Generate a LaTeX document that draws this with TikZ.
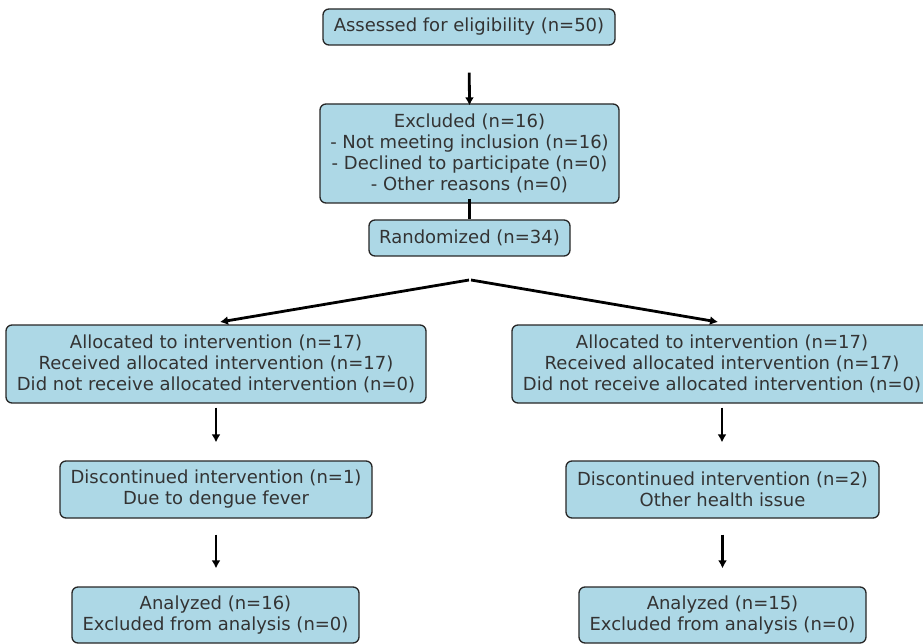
\documentclass[tikz,border=0pt]{standalone}
\usepackage{fontspec}
\setmainfont{DejaVu Sans}
\usetikzlibrary{arrows.meta}
\definecolor{boxfill}{HTML}{ADD8E6}
\definecolor{boxedge}{HTML}{262626}
\definecolor{txt}{HTML}{333333}
\tikzset{
  box/.style={draw=boxedge, fill=boxfill, line width=1.3pt, rounded corners=6pt,
    align=center, text=txt, inner sep=0pt, font={\fontsize{18}{21}\selectfont}},
  arr/.style={draw=black, line width=2.8pt, -{Latex[length=8pt,width=9pt]}},
  plainline/.style={draw=black, line width=2.8pt}
}
\begin{document}
\begin{tikzpicture}[x=1pt,y=-1pt]
\useasboundingbox (0,0) rectangle (923,644);
\clip (0,0) rectangle (923,644);
\node[box, minimum width=292pt, minimum height=36pt] (assess) at (469,27) {Assessed for eligibility (n=50)};
\node[box, minimum width=299pt, minimum height=99pt] (excl) at (469.5,153.5) {Excluded (n=16)\\- Not meeting inclusion (n=16)\\- Declined to participate (n=0)\\- Other reasons (n=0)};
\node[box, minimum width=201pt, minimum height=36pt] (rand) at (469.5,238) {Randomized (n=34)};
\node[box, minimum width=420pt, minimum height=78pt] (allocL) at (216,364) {Allocated to intervention (n=17)\\Received allocated intervention (n=17)\\Did not receive allocated intervention (n=0)};
\node[box, minimum width=420pt, minimum height=78pt] (allocR) at (722,364) {Allocated to intervention (n=17)\\Received allocated intervention (n=17)\\Did not receive allocated intervention (n=0)};
\node[box, minimum width=312pt, minimum height=57pt] (discL) at (216,489.5) {Discontinued intervention (n=1)\\Due to dengue fever};
\node[box, minimum width=313pt, minimum height=57pt] (discR) at (722.5,489.5) {Discontinued intervention (n=2)\\Other health issue};
\node[box, minimum width=287pt, minimum height=56pt] (anaL) at (215.5,615) {Analyzed (n=16)\\Excluded from analysis (n=0)};
\node[box, minimum width=287pt, minimum height=56pt] (anaR) at (722.5,615) {Analyzed (n=15)\\Excluded from analysis (n=0)};
\coordinate (splitL) at (469,280);
\coordinate (splitR) at (471,280);
\coordinate (endL) at (220,322);
\coordinate (endR) at (718,322);
\draw[arr, shorten <=27pt, shorten >=-2pt] (assess.south) -- (excl.north);
\draw[plainline, shorten <=-5pt] (excl.south) -- (rand.north);
\draw[arr] (splitL) -- (endL);
\draw[arr] (splitR) -- (endR);
\draw[arr, shorten <=4pt, shorten >=18pt] (allocL.south) -- (discL.north);
\draw[arr, shorten <=4pt, shorten >=18pt] (allocR.south) -- (allocR.south |- discR.north);
\draw[arr, shorten <=16pt, shorten >=18pt] (discL.south) -- (discL.south |- anaL.north);
\draw[arr, shorten <=16pt, shorten >=18pt] (discR.south) -- (discR.south |- anaR.north);
\end{tikzpicture}
\end{document}
